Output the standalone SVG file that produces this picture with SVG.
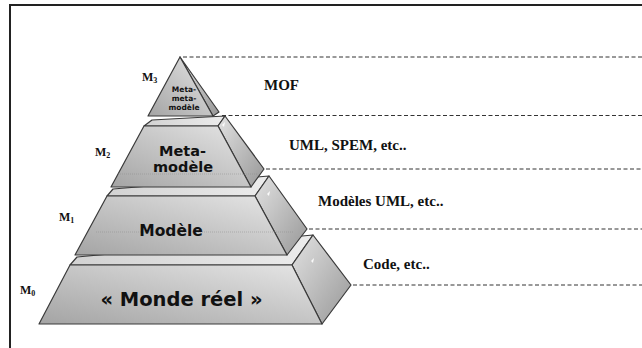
<svg xmlns="http://www.w3.org/2000/svg" width="642" height="348" viewBox="0 0 642 348">
  <defs>
    <linearGradient id="gFront" x1="0" y1="1" x2="1" y2="0">
      <stop offset="0" stop-color="#a4a4a4"/>
      <stop offset="0.55" stop-color="#c8c8c8"/>
      <stop offset="1" stop-color="#e6e6e6"/>
    </linearGradient>
    <linearGradient id="gTop" x1="0" y1="0" x2="1" y2="0">
      <stop offset="0" stop-color="#d2d2d2"/>
      <stop offset="1" stop-color="#ececec"/>
    </linearGradient>
    <linearGradient id="gSide" x1="0" y1="0" x2="1" y2="1">
      <stop offset="0" stop-color="#e2e2e2"/>
      <stop offset="1" stop-color="#979797"/>
    </linearGradient>
    <style>
      .front { fill: url(#gFront); stroke: #3a3a3a; stroke-width: 1.2; stroke-linejoin: round; }
      .top { fill: url(#gTop); stroke: #3a3a3a; stroke-width: 1.2; stroke-linejoin: round; }
      .side { fill: url(#gSide); stroke: #3a3a3a; stroke-width: 1.2; stroke-linejoin: round; }
      .hidden { stroke: #8a8a8a; stroke-width: 0.8; stroke-dasharray: 1 1; opacity: 0.6; fill: none; }
      .hl { fill: #ffffff; opacity: 0.9; }
      .inner { font-family: "DejaVu Sans", Verdana, sans-serif; font-weight: bold; fill: #111; text-anchor: middle; }
      .lvl { font-family: "Liberation Serif", "Times New Roman", serif; font-weight: bold; font-size: 12px; fill: #111; }
      .lab { font-family: "Liberation Serif", "Times New Roman", serif; font-weight: bold; font-size: 15px; fill: #111; }
      .dash { stroke: #333; stroke-width: 1; stroke-dasharray: 4 2.5; fill: none; }
    </style>
  </defs>

  <rect x="0" y="0" width="642" height="348" fill="#ffffff"/>
  <path d="M10,348 V5 H642" fill="none" stroke="#222" stroke-width="2"/>

  <g id="connectors">
    <line class="dash" x1="183" y1="57" x2="642" y2="57"/>
    <line class="dash" x1="222" y1="115.5" x2="642" y2="115.5"/>
    <line class="dash" x1="266" y1="169" x2="642" y2="169"/>
    <line class="dash" x1="309" y1="229" x2="642" y2="229"/>
    <line class="dash" x1="353" y1="285" x2="642" y2="285"/>
  </g>

  <g id="m0">
    <polygon class="top" points="70,265 77,257 313,235 292,265"/>
    <polygon class="side" points="292,265 313,235 351,285 322,324"/>
    <polygon class="front" points="70,265 292,265 322,324 39,324"/>
    <polygon class="hl" points="311,261 314,258 313,263"/>
    <text class="inner" x="181.5" y="306" font-size="19.5">« Monde réel »</text>
    <text class="lvl" x="20" y="294">M<tspan font-size="8" dy="2">0</tspan></text>
  </g>

  <g id="m1">
    <polygon class="top" points="107,196 113,189 269,176 255,196"/>
    <polygon class="side" points="255,196 269,176 307,229 287,255"/>
    <polygon class="front" points="107,196 255,196 287,255 75,255"/>
    <line class="hidden" x1="96" y1="232" x2="293" y2="232"/>
    <polygon class="hl" points="267,194 270,191 269,196"/>
    <text class="inner" x="171" y="236" font-size="15.5">Modèle</text>
    <text class="lvl" x="59" y="221">M<tspan font-size="8" dy="2">1</tspan></text>
  </g>

  <g id="m2">
    <polygon class="top" points="144,126 152,120 225,116 218,126"/>
    <polygon class="side" points="218,126 225,116 264,169 251,187"/>
    <polygon class="front" points="144,126 218,126 251,187 111,187"/>
    <line class="hidden" x1="118" y1="174" x2="258" y2="174"/>
    <polygon class="hl" points="222,125 225,122 224,127"/>
    <text class="inner" x="182.5" y="156" font-size="14.5">Meta-</text>
    <text class="inner" x="183" y="172" font-size="14.5">modèle</text>
    <text class="lvl" x="95" y="156">M<tspan font-size="8" dy="2">2</tspan></text>
  </g>

  <g id="m3">
    <polygon class="side" points="180,57 213,116 219,112"/>
    <polygon class="front" points="180,57 148,116 213,116"/>
    <text class="inner" x="184" y="92" font-size="7.5">Meta-</text>
    <text class="inner" x="184" y="101" font-size="7.5">meta-</text>
    <text class="inner" x="184" y="110" font-size="7.5">modèle</text>
    <text class="lvl" x="142" y="81">M<tspan font-size="8" dy="2">3</tspan></text>
  </g>

  <g id="labels">
    <text id="lab-mof" class="lab" x="264" y="90">MOF</text>
    <text id="lab-uml" class="lab" x="289" y="150">UML, SPEM, etc..</text>
    <text id="lab-models" class="lab" x="318" y="206">Modèles UML, etc..</text>
    <text id="lab-code" class="lab" x="363" y="269">Code, etc..</text>
  </g>
</svg>
